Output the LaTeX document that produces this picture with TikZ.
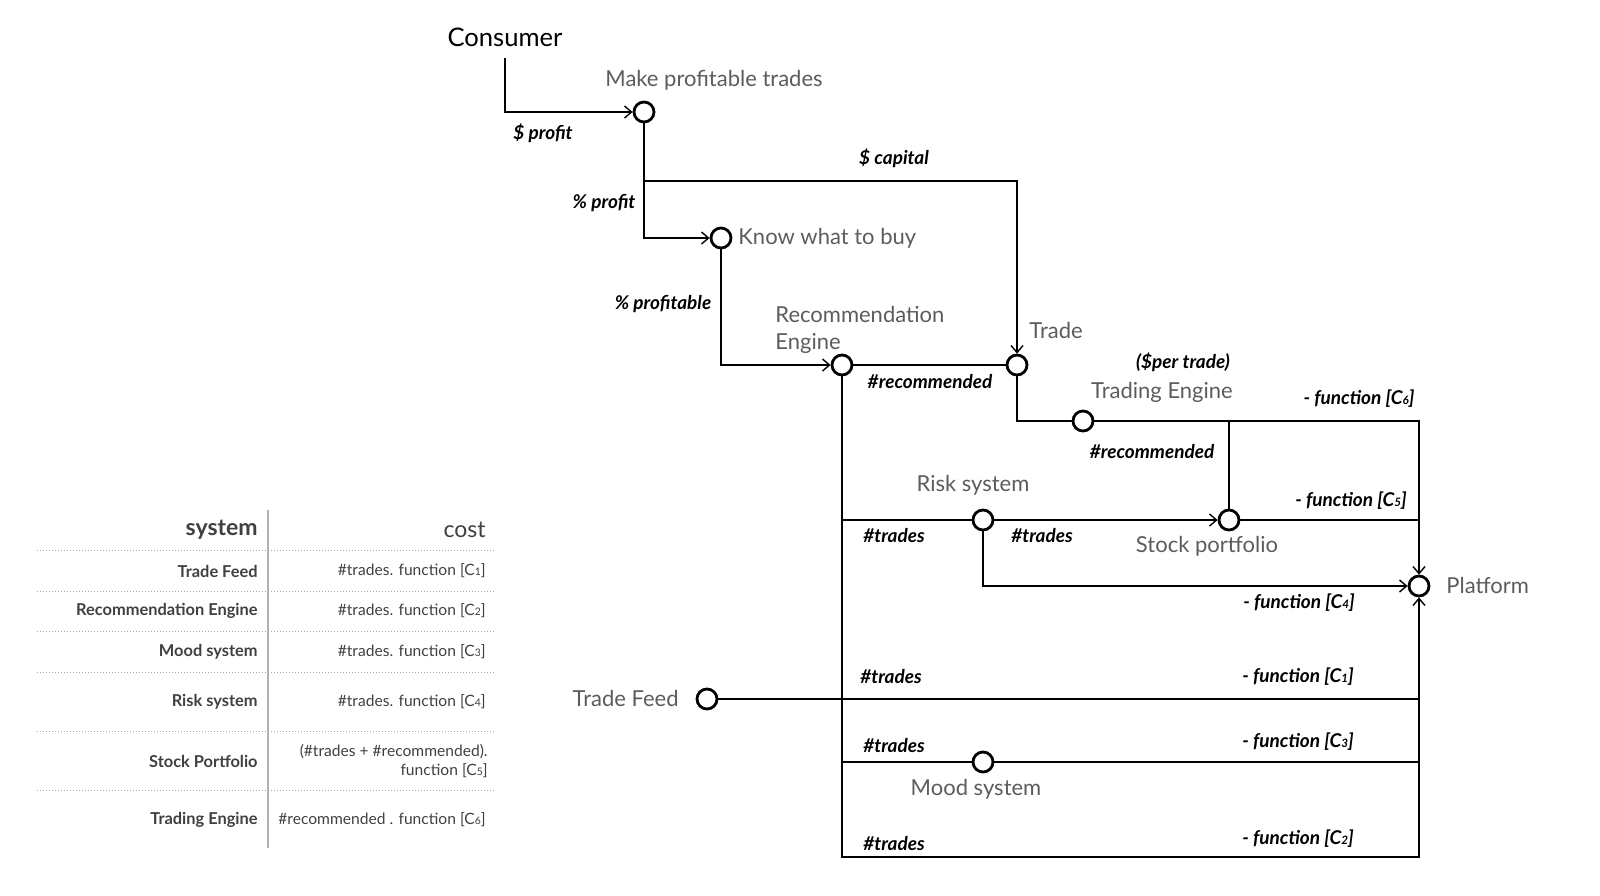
\documentclass[tikz,border=0pt]{standalone}
\usepackage{fontspec}
\setmainfont{Lato}
\usetikzlibrary{arrows.meta}
\definecolor{lblgray}{HTML}{5C5C5C}
\definecolor{tblgray}{HTML}{404040}
\newcommand{\csub}[1]{{\fontsize{5.8}{6}\selectfont #1}}
\newcommand{\tsub}[1]{{\fontsize{5.2}{6}\selectfont #1}}
\begin{document}
\begin{tikzpicture}[x=0.5pt,y=-0.5pt,
  port/.style={circle,draw=black,line width=1.4pt,minimum size=10pt,inner sep=0pt,fill=white},
  lbl/.style={text=lblgray,font=\fontsize{11}{13.5}\selectfont,inner sep=0pt},
  val/.style={font=\fontsize{9.5}{11}\selectfont\bfseries\itshape,inner sep=0pt},
  wire/.style={line width=0.7pt},
  arr/.style={-{Straight Barb[length=3.5pt,width=6pt,line width=0.7pt]}},
  tbl/.style={text=tblgray,font=\fontsize{7.8}{9.5}\selectfont,inner sep=0pt,anchor=east},
  tblb/.style={tbl,font=\fontsize{8.2}{9.5}\selectfont\bfseries},
  sep/.style={densely dotted,gray!70,line width=0.5pt}]
\useasboundingbox (0,0) rectangle (1600,895);

% ---- nodes ----
\node[font=\fontsize{12.8}{14}\selectfont,inner sep=0pt] (consumer) at (505,37) {Consumer};
\node[port] (mpt) at (644,112) {};
\node[port] (kwb) at (721,238) {};
\node[port] (rec) at (842,365) {};
\node[port] (trade) at (1017,365) {};
\node[port] (te) at (1083,421) {};
\node[port] (risk) at (983,520) {};
\node[port] (sp) at (1229,520) {};
\node[port] (plat) at (1419,586) {};
\node[port] (tf) at (707,699) {};
\node[port] (mood) at (983,762) {};

\coordinate (c0) at (505,58);
\coordinate (b1) at (644,181);
\coordinate (b2) at (1229,421);
\coordinate (b3) at (842,520);
\coordinate (b4) at (1419,520);
\coordinate (b5) at (1419,699);
\coordinate (b6) at (842,762);
\coordinate (b7) at (1419,762);
\coordinate (bl) at (842,857);

% ---- connectors ----
\draw[wire,arr] (c0) |- (mpt);
\draw[wire,arr] (mpt) |- (kwb);
\draw[wire,arr] (b1) -| (trade);
\draw[wire,arr] (kwb) |- (rec);
\draw[wire] (rec) -- (trade);
\draw[wire] (trade) |- (te);
\draw[wire,arr] (te) -| (plat);
\draw[wire] (b2) -- (sp);
\draw[wire] (b3) -- (risk);
\draw[wire,arr] (risk) -- (sp);
\draw[wire] (sp) -- (b4);
\draw[wire,arr] (risk) |- (plat);
\draw[wire,arr] (rec) -- (bl) -| (plat);
\draw[wire] (tf) -- (b5);
\draw[wire] (b6) -- (mood) -- (b7);

% ---- labels ----
\node[lbl] (l1) at (714,80) {Make profitable trades};
\node[lbl,anchor=west] (l2) at (738,238) {Know what to buy};
\node[lbl,anchor=west,align=left] (l3) at (775,330) {Recommendation\\Engine};
\node[lbl,anchor=west] (l4) at (1029,330) {Trade};
\node[lbl] (l5) at (1162,392) {Trading Engine};
\node[lbl] (l6) at (973,485) {Risk system};
\node[lbl] (l7) at (1207,546) {Stock portfolio};
\node[lbl,anchor=west] (l8) at (1446,585) {Platform};
\node[lbl,anchor=east] (l9) at (679,698) {Trade Feed};
\node[lbl] (l10) at (976,789) {Mood system};

\node[val] (v1) at (543,133) {\$ profit};
\node[val] (v2) at (894,158) {\$ capital};
\node[val] (v3) at (604,203) {\% profit};
\node[val] (v4) at (663,304) {\% profitable};
\node[val] (v5) at (930,382) {\#recommended};
\node[val] (v6) at (1183,362) {(\$per trade)};
\node[val] (v7) at (1152,452) {\#recommended};
\node[val] (v8) at (1359,399) {- function [C\csub{6}]};
\node[val] (v9) at (1351,501) {- function [C\csub{5}]};
\node[val] (v10) at (894,536) {\#trades};
\node[val] (v11) at (1042,536) {\#trades};
\node[val] (v12) at (1299,603) {- function [C\csub{4}]};
\node[val] (v13) at (891,677) {\#trades};
\node[val] (v14) at (1298,677) {- function [C\csub{1}]};
\node[val] (v15) at (894,746) {\#trades};
\node[val] (v16) at (1298,742) {- function [C\csub{3}]};
\node[val] (v17) at (894,844) {\#trades};
\node[val] (v18) at (1298,839) {- function [C\csub{2}]};

% ---- table ----
\draw[gray!60,line width=0.7pt] (268,510) -- (268,848);
\foreach \yy in {550,591,631,672,731,790} \draw[sep] (37,\yy) -- (495,\yy);
\node[tblb,font=\fontsize{11.5}{13}\selectfont\bfseries] (th1) at (258,530) {system};
\node[tbl,font=\fontsize{11.5}{13}\selectfont] (th2) at (486,530) {cost};
\node[tblb] (r1) at (258,571) {Trade Feed};
\node[tblb] (r2) at (258,611) {Recommendation Engine};
\node[tblb] (r3) at (258,652) {Mood system};
\node[tblb] (r4) at (258,702) {Risk system};
\node[tblb] (r5) at (258,761) {Stock Portfolio};
\node[tblb] (r6) at (258,820) {Trading Engine};
\node[tbl] (k1) at (486,571) {\#trades. function [C\tsub{1}]};
\node[tbl] (k2) at (486,611) {\#trades. function [C\tsub{2}]};
\node[tbl] (k3) at (486,652) {\#trades. function [C\tsub{3}]};
\node[tbl] (k4) at (486,702) {\#trades. function [C\tsub{4}]};
\node[tbl,align=right] (k5) at (488,761) {(\#trades + \#recommended).\\function [C\tsub{5}]};
\node[tbl] (k6) at (486,820) {\#recommended . function [C\tsub{6}]};
\end{tikzpicture}
\end{document}
